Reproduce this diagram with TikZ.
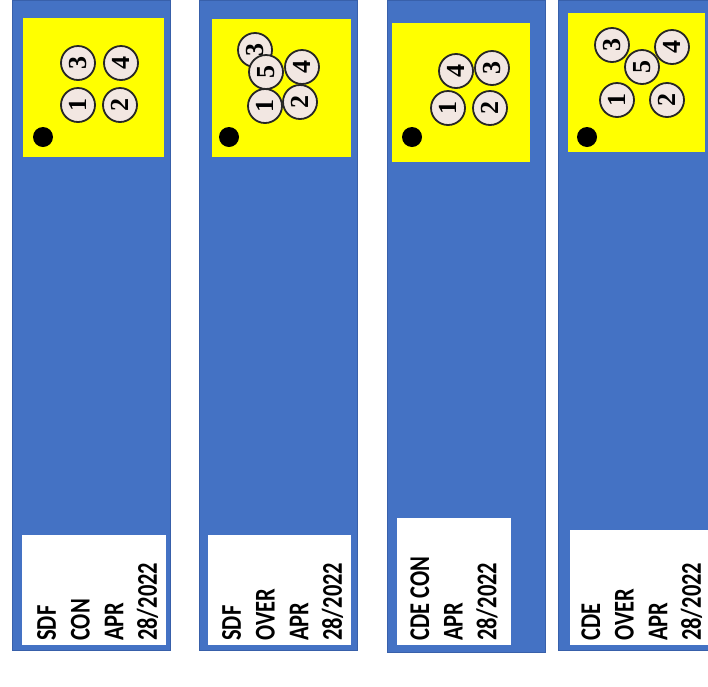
\documentclass[tikz,border=0pt]{standalone}
\usepackage{fontspec}
\setmainfont{Carlito}
\newfontfamily\pinfont{Liberation Serif}
\usetikzlibrary{positioning}
\definecolor{StripBlue}{RGB}{68,114,196}
\definecolor{StripEdge}{RGB}{56,96,170}
\definecolor{PadYellow}{RGB}{255,255,0}
\definecolor{PinFill}{RGB}{242,231,226}
\tikzset{
  strip/.style={fill=StripBlue,draw=StripEdge,line width=0.8pt},
  pad/.style={fill=PadYellow},
  tag/.style={fill=white},
  pin/.style={circle,draw=black!85,line width=1.8pt,fill=PinFill,minimum size=34pt,
    inner sep=0pt,rotate=90,font=\pinfont\bfseries\fontsize{26}{26}\selectfont},
  hole/.style={circle,fill=black,minimum size=20pt,inner sep=0pt},
  tagtext/.style={rotate=90,yscale=1.27,anchor=north west,inner sep=0pt,align=left,
    font=\bfseries\fontsize{22.5}{26.5}\selectfont}
}

\begin{document}
\begin{tikzpicture}[x=1pt,y=-1pt]
  \useasboundingbox (0,0) rectangle (708,686);
  \clip (0,0) rectangle (708,686);
  % strip 1: SDF CON
  \filldraw[strip] (12,0) rectangle (170,650);
  \fill[pad] (23,18) rectangle (164,157);
  \fill[tag] (22,535) rectangle (166,645);
  \node[pin] (s1p3) at (78,63) {3};
  \node[pin] (s1p4) at (121,63) {4};
  \node[pin] (s1p1) at (78,105) {1};
  \node[pin] (s1p2) at (120,105) {2};
  \node[hole] (s1h) at (43,137) {};
  \node[tagtext] (s1t) at (37,641) {SDF\\CON\\APR\\28/2022};
  % strip 2: SDF OVER
  \filldraw[strip] (199,0) rectangle (357,650);
  \fill[pad] (212,19) rectangle (351,157);
  \fill[tag] (208,535) rectangle (351,645);
  \node[pin] (s2p3) at (255,50) {3};
  \node[pin] (s2p5) at (266,72) {5};
  \node[pin] (s2p4) at (302,67) {4};
  \node[pin] (s2p1) at (265,106) {1};
  \node[pin] (s2p2) at (300,102) {2};
  \node[hole] (s2h) at (229,137) {};
  \node[tagtext] (s2t) at (222,641) {SDF\\OVER\\APR\\28/2022};
  % strip 3: CDE CON
  \filldraw[strip] (387,0) rectangle (545,652);
  \fill[pad] (392,23) rectangle (530,162);
  \fill[tag] (397,518) rectangle (511,645);
  \node[pin] (s3p4) at (456,71) {4};
  \node[pin] (s3p3) at (492,68) {3};
  \node[pin] (s3p1) at (448,108) {1};
  \node[pin] (s3p2) at (490,108) {2};
  \node[hole] (s3h) at (412,137) {};
  \node[tagtext] (s3t) at (410,641) {CDE CON\\APR\\28/2022};
  % strip 4: CDE OVER
  \filldraw[strip] (558,0) rectangle (730,650);
  \fill[pad] (568,13) rectangle (705,152);
  \fill[tag] (570,530) rectangle (708,645);
  \node[pin] (s4p3) at (612,45) {3};
  \node[pin] (s4p4) at (672,47) {4};
  \node[pin] (s4p5) at (642,67) {5};
  \node[pin] (s4p1) at (617,100) {1};
  \node[pin] (s4p2) at (667,100) {2};
  \node[hole] (s4h) at (587,137) {};
  \node[tagtext] (s4t) at (581,641) {CDE\\OVER\\APR\\28/2022};
\end{tikzpicture}
\end{document}
